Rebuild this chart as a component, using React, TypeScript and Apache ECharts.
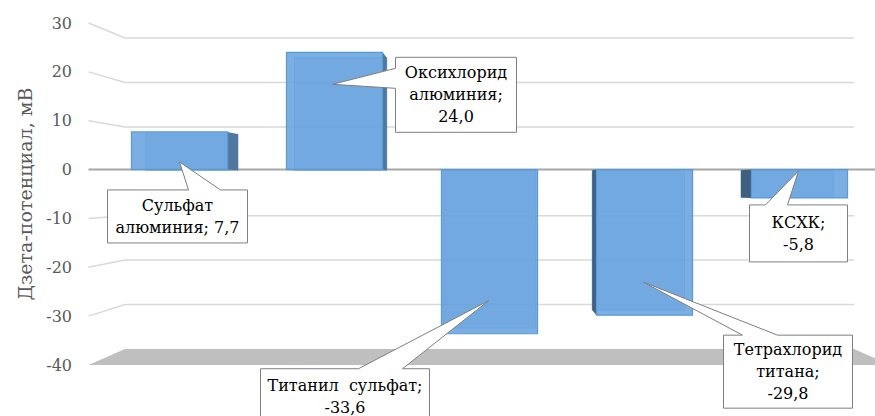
import React, { useEffect, useRef } from "react";
import * as echarts from "echarts";

// ---- data ----
const categories = [
  "Сульфат алюминия",
  "Оксихлорид алюминия",
  "Титанил сульфат",
  "Тетрахлорид титана",
  "КСХК",
];
const values = [7.7, 24.0, -33.6, -29.8, -5.8];
const yTicks = [30, 20, 10, 0, -10, -20, -30, -40];
const calloutNames = [
  "Сульфат\nалюминия",
  "Оксихлорид\nалюминия",
  "Титанил  сульфат",
  "Тетрахлорид\nтитана",
  "КСХК",
];
const valueOnNewLine = [false, true, true, true, true];
const yAxisTitle = "Дзета-потенциал, мВ";

// ---- callout layout (relative to the bar's value point) ----
type Layout = { box: number[]; tip: number[]; side: "top" | "left"; base: number[] };
const calloutLayout: Layout[] = [
  { box: [-72, 58, 140, 53], tip: [0, 30], side: "top", base: [81, 113] },
  { box: [61, 5, 121, 75], tip: [-2, 32], side: "left", base: [11, 31] },
  { box: [-229, 35, 169, 56], tip: [-1, -33], side: "top", base: [98, 142] },
  { box: [79, 20, 129, 73], tip: [-1, -33], side: "top", base: [19, 54] },
  { box: [-50, 7, 98, 57], tip: [-1, -27], side: "top", base: [16, 38] },
];

const SERIF = "DejaVu Serif";
const WALL_K = 0.909;
const BAR_K = 0.96;
const VY_SHIFT = 19;

const fmt = (v: number) => v.toFixed(1).replace(".", ",");

export default function App() {
  const ref = useRef<HTMLDivElement>(null);
  useEffect(() => {
    if (!ref.current) return;
    const chart = echarts.init(ref.current, undefined, { renderer: "svg" });
    const option: any = {
      animation: false,
      backgroundColor: "#ffffff",
      grid: { left: 102, top: 23, width: 775, height: 342, outerBoundsMode: "none" },
      xAxis: {
        type: "category",
        data: categories,
        axisLine: { show: false },
        axisTick: { show: false },
        axisLabel: { show: false },
        splitLine: { show: false },
      },
      yAxis: {
        type: "value",
        min: -40,
        max: 30,
        interval: 10,
        axisLine: { show: false },
        axisTick: { show: false },
        splitLine: { show: false },
        axisLabel: { color: "#595959", fontSize: 16, fontFamily: SERIF, margin: 30 },
        name: yAxisTitle,
        nameLocation: "middle",
        nameGap: 68,
        nameTextStyle: { color: "#595959", fontSize: 19, fontFamily: SERIF },
      },
      series: [
        {
          type: "custom",
          name: "grid",
          z: 1,
          silent: true,
          data: yTicks.map((t) => [0, t]),
          renderItem: (params: any, api: any) => {
            const cs = params.coordSys;
            const v = api.value(1);
            const y0 = api.coord([0, 0])[1];
            const yf = api.coord([0, v])[1];
            const vx = cs.x + cs.width / 2;
            const vy = y0 + VY_SHIFT;
            const half = cs.width / 2 + 13.5;
            const xl = vx - half;
            const xr = vx + half;
            const bx = (x: number) => vx + (x - vx) * WALL_K;
            const by = (y: number) => vy + (y - vy) * WALL_K;
            if (v === yTicks[yTicks.length - 1]) {
              return {
                type: "polygon",
                shape: { points: [[xl, yf], [bx(xl), by(yf)], [bx(xr), by(yf)], [xr, yf]] },
                style: { fill: "#bfbfbf" },
              };
            }
            if (v === 0) {
              return {
                type: "line",
                shape: { x1: xl, y1: y0, x2: xr, y2: y0 },
                style: { stroke: "#a6a6a6", lineWidth: 2 },
              };
            }
            return {
              type: "polyline",
              shape: { points: [[xl, yf], [bx(xl), by(yf)], [bx(xr), by(yf)]] },
              style: { stroke: "#d9d9d9", lineWidth: 1.5, fill: "none" },
            };
          },
        },
        {
          type: "custom",
          name: "bars",
          z: 2,
          data: values.map((v, i) => [i, v]),
          renderItem: (params: any, api: any) => {
            const cs = params.coordSys;
            const i = api.value(0);
            const v = api.value(1);
            const [cx, yv] = api.coord([i, v]);
            const y0 = api.coord([i, 0])[1];
            const vx = cs.x + cs.width / 2;
            const vy = y0 + VY_SHIFT;
            const bw = api.size([1, 0])[0] * 0.62;
            const L = cx - bw / 2;
            const R = cx + bw / 2;
            const P = (x: number, y: number) => [vx + (x - vx) * BAR_K, vy + (y - vy) * BAR_K];
            const bl = P(L, yv), br = P(R, yv), bl0 = P(L, y0), br0 = P(R, y0);
            const children: any[] = [];
            children.push({
              type: "polygon",
              shape: { points: [bl, br, br0, bl0] },
              style: { fill: "rgba(91,155,213,0.35)", stroke: "rgba(91,155,213,0.6)", lineWidth: 1 },
            });
            if (cx < vx - 5) {
              children.push({
                type: "polygon",
                shape: { points: [[R, yv], [R, y0], br0, br] },
                style: { fill: "#50789f" },
              });
            } else if (cx > vx + 5) {
              children.push({
                type: "polygon",
                shape: { points: [[L, yv], [L, y0], bl0, bl] },
                style: { fill: "#3f5f80" },
              });
            }
            children.push({
              type: "rect",
              shape: { x: L, y: Math.min(yv, y0), width: bw, height: Math.abs(yv - y0) },
              style: { fill: "rgba(100,160,222,0.85)", stroke: "#5b9bd5", lineWidth: 1.2 },
            });
            return { type: "group", children };
          },
        },
        {
          type: "custom",
          name: "callouts",
          z: 3,
          silent: true,
          data: values.map((v, i) => [i, v]),
          renderItem: (params: any, api: any) => {
            const i = params.dataIndex;
            const [ax, ay] = api.coord([api.value(0), api.value(1)]);
            const lay = calloutLayout[i];
            const L = ax + lay.box[0];
            const T = ay + lay.box[1];
            const R = L + lay.box[2];
            const B = T + lay.box[3];
            const tx = ax + lay.tip[0];
            const ty = ay + lay.tip[1];
            const pts =
              lay.side === "top"
                ? [[L, T], [L + lay.base[0], T], [tx, ty], [L + lay.base[1], T], [R, T], [R, B], [L, B]]
                : [[L, T], [R, T], [R, B], [L, B], [L, T + lay.base[1]], [tx, ty], [L, T + lay.base[0]]];
            const text =
              calloutNames[i] + ";" + (valueOnNewLine[i] ? "\n" : " ") + fmt(values[i]);
            return {
              type: "group",
              children: [
                {
                  type: "polygon",
                  shape: { points: pts },
                  style: { fill: "#ffffff", stroke: "#7f7f7f", lineWidth: 1 },
                },
                {
                  type: "text",
                  style: {
                    text,
                    x: (L + R) / 2,
                    y: (T + B) / 2,
                    align: "center",
                    verticalAlign: "middle",
                    fill: "#000000",
                    fontSize: 16,
                    fontFamily: SERIF,
                    lineHeight: 22,
                  },
                },
              ],
            };
          },
        },
      ],
    };
    chart.setOption(option);
    return () => chart.dispose();
  }, []);
  return (
    <div
      ref={ref}
      style={{ position: "fixed", left: 0, top: 0, width: 875, height: 416, background: "#fff" }}
    />
  );
}
